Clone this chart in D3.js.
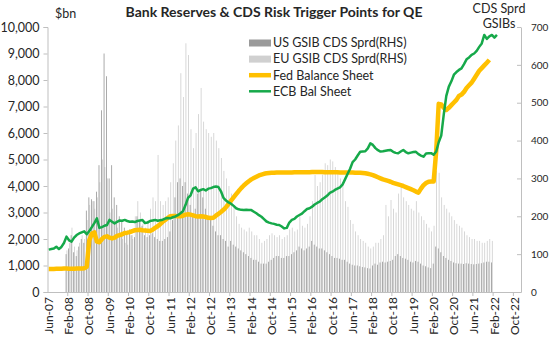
<!DOCTYPE html>
<html>
<head>
<meta charset="utf-8">
<script src="https://cdn.jsdelivr.net/npm/d3@7"></script>
<style>
  html, body { margin: 0; padding: 0; background: #fff; }
  svg text { font-family: Lato, 'Open Sans', sans-serif; fill: #262626; }
</style>
</head>
<body>
<div id="chart"></div>
<script>
// --- Categories: monthly, Jun-07 .. Dec-22 ---
var firstMonth = new Date(2007, 5, 1);
var lastMonth = new Date(2022, 11, 1);
var labelEvery = 8;

// --- Fed balance sheet, $bn, Jun-07 .. Dec-21 ---
var fedBal = [
  870, 870, 870, 875, 880, 880, 890,
  890, 880, 880, 880, 885, 890, 890, 900, 950, 1950, 2200, 2250,
  1900, 1880, 2000, 2080, 2100, 2050, 2020, 2050, 2120, 2150, 2180, 2230,
  2240, 2260, 2300, 2330, 2340, 2350, 2330, 2320, 2310, 2300, 2350, 2420,
  2480, 2560, 2650, 2720, 2800, 2860, 2870, 2870, 2860, 2860, 2880, 2920,
  2930, 2920, 2890, 2860, 2850, 2860, 2850, 2830, 2800, 2790, 2800, 2880,
  2950, 3020, 3100, 3200, 3320, 3450, 3570, 3690, 3810, 3920, 4020, 4100,
  4180, 4250, 4300, 4350, 4400, 4430, 4460, 4480, 4490, 4500, 4500, 4510,
  4510, 4510, 4510, 4510, 4510, 4510, 4520, 4520, 4520, 4520, 4520, 4520,
  4520, 4530, 4530, 4530, 4530, 4530, 4520, 4520, 4520, 4520, 4520, 4520,
  4510, 4510, 4510, 4510, 4510, 4510, 4500, 4500, 4500, 4490, 4480, 4460,
  4440, 4410, 4370, 4330, 4290, 4250, 4220, 4190, 4160, 4120, 4090, 4060,
  4030, 4000, 3960, 3920, 3880, 3840, 3790, 3750, 3900, 4030, 4110, 4160,
  4170, 4170, 5300, 7100, 7080, 6950, 6870, 6950, 7050, 7150, 7250, 7400,
  7450, 7550, 7700, 7800, 7900, 8050, 8200, 8350, 8450, 8550, 8650, 8760
];

// --- ECB balance sheet, $bn, Jun-07 .. Mar-22 ---
var ecbBal = [
  1600, 1620, 1640, 1710, 1620, 1700, 1850,
  2090, 1950, 1900, 2050, 2150, 2210, 2250, 2290, 2180, 2300, 2450, 2600,
  2780, 2420, 2450, 2500, 2530, 2720, 2650, 2590, 2650, 2700, 2690, 2720,
  2680, 2650, 2660, 2640, 2680, 2700, 2720, 2600, 2620, 2680, 2700, 2720,
  2690, 2710, 2730, 2770, 2790, 2780, 2820, 2850, 2900, 2970, 3050, 3280,
  3550, 3650, 3900, 3950, 3800, 3850, 3880, 3830, 3900, 3920, 3960, 3980,
  3960, 3800, 3550, 3450, 3380, 3330, 3250, 3160, 3120, 3100, 3090, 3100,
  3095, 3090, 3030, 2970, 2900, 2840, 2750, 2660, 2620, 2590, 2570, 2540,
  2530, 2470, 2400, 2420, 2620, 2720, 2760, 2850, 2905, 2960, 3050, 3130,
  3160, 3220, 3300, 3360, 3410, 3500, 3570, 3640, 3740, 3785, 3850, 3900,
  3950, 4050, 4250, 4450, 4650, 4900, 5000, 5150, 5290, 5300, 5310, 5420,
  5610, 5550, 5430, 5350, 5300, 5310, 5330, 5350, 5360, 5290, 5250, 5235,
  5300, 5360, 5280, 5235, 5260, 5280, 5290, 5200, 5150, 5105, 5230, 5235,
  5240, 5180, 5300, 5650, 5900, 6700, 7400, 7750, 7950, 8200, 8300, 8380,
  8440, 8600, 8780, 8850, 8950, 9000, 9100, 9250, 9380, 9700, 9550, 9650,
  9700, 9600, 9700
];

// --- GSIB CDS spreads, bp (RHS), Jan-08 .. Jan-22 ---
var cdsStart = new Date(2008, 0, 1);
var usCds = [
  100, 115, 150, 105, 95, 120, 140, 130, 215, 250, 245, 240,
  265, 335, 480, 630, 570, 300, 335, 250, 230, 200, 185, 170,
  160, 165, 150, 145, 200, 190, 175, 150, 145, 150, 155, 145,
  140, 135, 135, 140, 145, 160, 190, 250, 290, 300, 280, 290,
  260, 230, 200, 220, 260, 270, 250, 220, 200, 190, 175, 160,
  150, 150, 140, 135, 120, 135, 125, 120, 115, 110, 105, 100,
  95, 90, 85, 85, 80, 75, 75, 75, 80, 85, 90, 95,
  95, 90, 90, 95, 95, 100, 105, 110, 120, 115, 110, 115,
  120, 135, 125, 120, 115, 115, 110, 105, 100, 95, 90, 90,
  88, 85, 85, 80, 75, 72, 70, 70, 68, 66, 65, 63,
  62, 70, 75, 72, 78, 80, 78, 80, 82, 85, 95, 100,
  95, 90, 88, 85, 80, 78, 82, 80, 75, 70, 68, 65,
  63, 75, 120, 115, 105, 95, 90, 85, 82, 78, 76, 75,
  75, 74, 76, 75, 74, 73, 74, 75, 76, 78, 80, 80,
  78
];
var euCds = [
  110, 130, 170, 120, 110, 130, 150, 140, 190, 230, 240, 220,
  250, 290, 350, 330, 300, 210, 220, 190, 170, 150, 140, 130,
  125, 150, 140, 200, 240, 210, 180, 170, 190, 220, 250, 240,
  362, 240, 230, 240, 250, 290, 340, 400, 440, 578, 515, 657,
  626, 430, 380, 420, 470, 539, 450, 430, 420, 410, 420, 400,
  380, 354, 320, 300, 280, 260, 230, 200, 180, 170, 165, 160,
  170, 160, 150, 150, 140, 130, 135, 140, 150, 155, 150, 145,
  150, 140, 145, 150, 165, 170, 160, 165, 200, 175, 170, 180,
  200, 240, 309, 280, 290, 310, 340, 335, 350, 345, 330, 320,
  300, 290, 240, 225, 190, 180, 160, 150, 140, 135, 130, 120,
  115, 120, 130, 130, 140, 150, 230, 200, 243, 220, 210, 260,
  277, 250, 240, 230, 220, 215, 240, 210, 200, 190, 180, 170,
  160, 175, 320, 315, 250, 230, 220, 210, 200, 190, 180, 175,
  170, 160, 150, 145, 140, 140, 135, 135, 130, 130, 135, 140,
  135
];

var leftTicks = [0, 1000, 2000, 3000, 4000, 5000, 6000, 7000, 8000, 9000, 10000];
var rightTicks = [0, 100, 200, 300, 400, 500, 600, 700];

var seriesNames = ['US GSIB CDS Sprd(RHS)', 'EU GSIB CDS Sprd(RHS)', 'Fed Balance Sheet', 'ECB Bal Sheet'];

// --- Colors ---
var colors = {
  us: '#9a9a9a',
  eu: '#d0d0d0',
  fed: '#ffc000',
  ecb: '#16a94a',
  axis: '#bfbfbf'
};

// --- Dimensions ---
var width = 550, height = 339;
var plot = { left: 47.5, right: 521, top: 27, bottom: 292 };

var months = d3.timeMonths(firstMonth, d3.timeMonth.offset(lastMonth, 1));
var fmt = d3.timeFormat('%b-%y');
var cdsOffset = d3.timeMonth.count(firstMonth, cdsStart);

var svg = d3.select('#chart').append('svg')
  .attr('width', width)
  .attr('height', height);

var x = d3.scaleBand()
  .domain(d3.range(months.length))
  .range([plot.left, plot.right])
  .padding(0);
var bw = x.bandwidth();

var yL = d3.scaleLinear().domain([0, 10000]).range([plot.bottom, plot.top]);
var yR = d3.scaleLinear().domain([0, 700]).range([plot.bottom, plot.top]);

// --- Bars (RHS), thin clustered columns with gaps ---
var barG = svg.append('g');
barG.selectAll('rect.eu')
  .data(euCds)
  .join('rect')
  .attr('class', 'eu')
  .attr('x', function (d, i) { return x(i + cdsOffset) + bw * 0.5; })
  .attr('width', bw * 0.33)
  .attr('y', function (d) { return yR(d); })
  .attr('height', function (d) { return yR(0) - yR(d); })
  .attr('fill', colors.eu);

barG.selectAll('rect.us')
  .data(usCds)
  .join('rect')
  .attr('class', 'us')
  .attr('x', function (d, i) { return x(i + cdsOffset) + bw * 0.17; })
  .attr('width', bw * 0.33)
  .attr('y', function (d) { return yR(d); })
  .attr('height', function (d) { return yR(0) - yR(d); })
  .attr('fill', colors.us);

// --- Axes ---
var axisL = svg.append('g')
  .attr('transform', 'translate(' + plot.left + ',0)')
  .call(d3.axisLeft(yL).tickValues(leftTicks).tickSize(4).tickPadding(4)
    .tickFormat(d3.format(',')));

var axisR = svg.append('g')
  .attr('transform', 'translate(' + plot.right + ',0)')
  .call(d3.axisRight(yR).tickValues(rightTicks).tickSizeInner(-4).tickSizeOuter(0).tickPadding(10));

var labelIdx = d3.range(0, months.length, labelEvery);
var axisB = svg.append('g')
  .attr('transform', 'translate(0,' + plot.bottom + ')')
  .call(d3.axisBottom(x).tickValues(labelIdx).tickSize(0).tickPadding(5)
    .tickFormat(function (i) { return fmt(months[i]); }));

axisB.selectAll('text')
  .attr('transform', 'rotate(-90)')
  .attr('text-anchor', 'end')
  .attr('x', -5)
  .attr('y', 0)
  .attr('dy', '0.35em');

// Category boundary ticks
axisB.selectAll('line.cat')
  .data(labelIdx.slice(1))
  .join('line')
  .attr('class', 'cat')
  .attr('x1', function (i) { return x(i); })
  .attr('x2', function (i) { return x(i); })
  .attr('y1', 0).attr('y2', 4)
  .attr('stroke', colors.axis);

[axisL, axisR, axisB].forEach(function (g) {
  g.selectAll('.domain').attr('stroke', colors.axis);
  g.selectAll('.tick line').attr('stroke', colors.axis);
  g.selectAll('text').style('font-size', '12.5px').attr('fill', '#262626');
});
axisB.selectAll('text').style('font-size', '12px');
axisR.selectAll('.tick text').attr('text-anchor', 'start').style('font-size', '10px');

// --- Lines ---
var fedLine = d3.line()
  .x(function (d, i) { return x(i) + bw / 2; })
  .y(function (d) { return yL(d); });

svg.append('path')
  .datum(fedBal)
  .attr('d', fedLine)
  .attr('fill', 'none')
  .attr('stroke', colors.fed)
  .attr('stroke-width', 4.5)
  .attr('stroke-linejoin', 'round');

svg.append('path')
  .datum(ecbBal)
  .attr('d', fedLine)
  .attr('fill', 'none')
  .attr('stroke', colors.ecb)
  .attr('stroke-width', 2.5)
  .attr('stroke-linejoin', 'round');

// --- Titles ---
svg.append('text')
  .attr('x', 274).attr('y', 17)
  .attr('text-anchor', 'middle')
  .style('font-size', '14px')
  .style('font-weight', 'bold')
  .attr('fill', '#000')
  .text('Bank Reserves & CDS Risk Trigger Points for QE');

svg.append('text')
  .attr('x', 55).attr('y', 18)
  .style('font-size', '12.5px')
  .text('$bn');

svg.append('text')
  .attr('x', 499).attr('y', 13)
  .attr('text-anchor', 'middle')
  .style('font-size', '12.5px')
  .text('CDS Sprd');
svg.append('text')
  .attr('x', 499).attr('y', 28)
  .attr('text-anchor', 'middle')
  .style('font-size', '12.5px')
  .text('GSIBs');

// --- Legend ---
var legend = svg.append('g').attr('transform', 'translate(249,43)');
var legItems = legend.selectAll('g')
  .data(seriesNames)
  .join('g')
  .attr('transform', function (d, i) { return 'translate(0,' + i * 16.1 + ')'; });

legItems.each(function (d, i) {
  var g = d3.select(this);
  if (i < 2) {
    g.append('rect').attr('x', 0).attr('y', -3.5).attr('width', 22).attr('height', 7)
      .attr('fill', i === 0 ? colors.us : colors.eu);
  } else {
    g.append('line').attr('x1', 0).attr('x2', 22).attr('y1', 0).attr('y2', 0)
      .attr('stroke', i === 2 ? colors.fed : colors.ecb)
      .attr('stroke-width', i === 2 ? 4.5 : 2.5);
  }
  g.append('text').attr('x', 24).attr('y', 0).attr('dy', '0.35em')
    .style('font-size', '12.5px').text(d);
});
</script>
</body>
</html>
